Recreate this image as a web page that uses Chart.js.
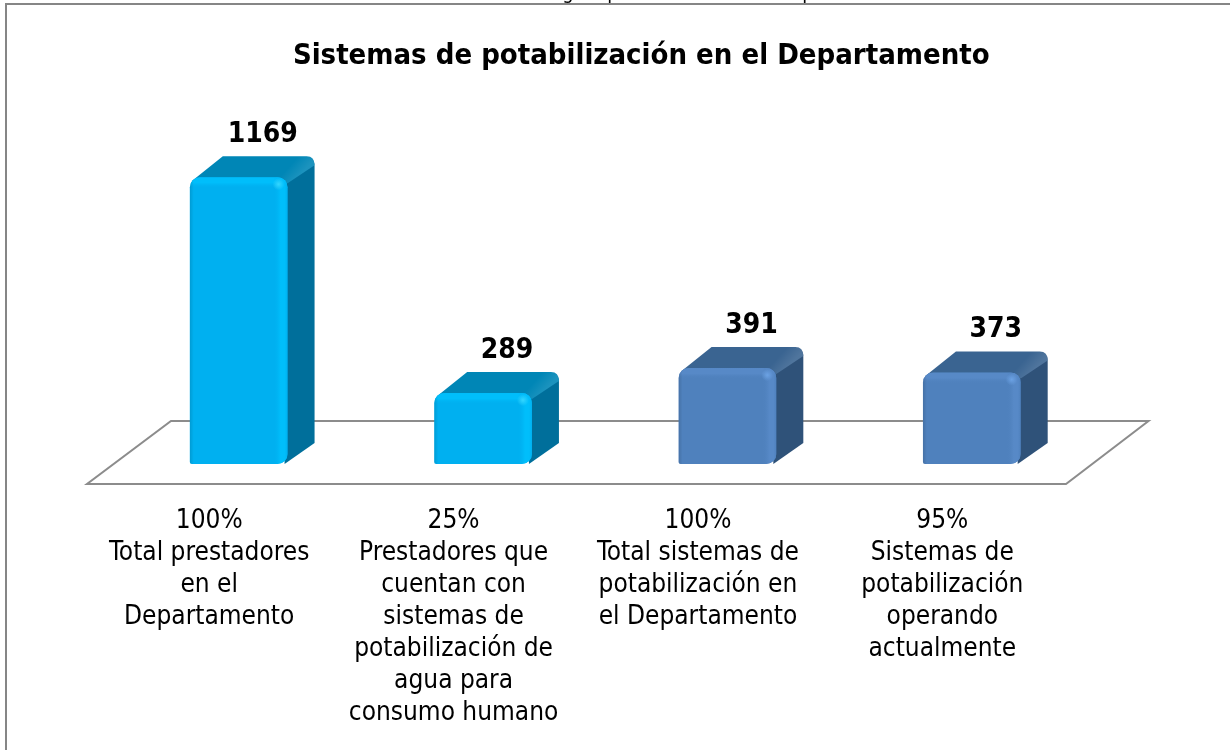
<!DOCTYPE html>
<html><head><meta charset="utf-8">
<style>html,body{margin:0;padding:0;background:#fff}#w{width:1230px;height:750px;position:relative}</style>
<script src="https://cdn.jsdelivr.net/npm/chart.js@4"></script>
</head><body><div id="w"><canvas id="c" width="1230" height="750"></canvas></div>
<script>
const categories = [
  ["100%","Total prestadores","en el","Departamento"],
  ["25%","Prestadores que","cuentan con","sistemas de","potabilización de","agua para","consumo humano"],
  ["100%","Total sistemas de","potabilización en","el Departamento"],
  ["95%","Sistemas de","potabilización","operando","actualmente"]
];
const values = [1169, 289, 391, 373];
const chartTitle = "Sistemas de potabilización en el Departamento";
const frontColors = ["#00B0F0","#00B0F0","#4F81BD","#4F81BD"];
const topColors   = ["#0086B6","#0086B6","#3A6491","#3A6491"];
const sideColors  = ["#006F9B","#006F9B","#2F5279","#2F5279"];
const glowColors  = ["#00BEFB","#00BEFB","#5789C7","#5789C7"];
const spotColors  = ["#33D6FF","#33D6FF","#6CA2E4","#6CA2E4"];
const FONT = "'DejaVu Sans Condensed','DejaVu Sans',sans-serif";
const DX = 27, DY = 21, R = 10;

const deco = {
  id:'deco',
  afterLayout(chart){ const t = chart.titleBlock; t.left += 36; t.right += 36; },
  beforeDraw(chart){
    const c = chart.ctx; c.save();
    c.fillStyle='#fff'; c.fillRect(0,0,1230,750);
    c.strokeStyle='#868686'; c.lineWidth=2;
    c.strokeRect(6,4,1300,800);
    c.fillStyle='#000'; c.font="20px "+FONT; c.textAlign='center'; c.textBaseline='alphabetic';
    c.fillText('g',568,-1); c.fillText('p',613,-1); c.fillText('p',808,-1);
    c.restore();
  },
  beforeDatasetsDraw(chart){
    const c = chart.ctx, a = chart.chartArea, b = a.bottom;
    c.save();
    c.strokeStyle='#8C8C8C'; c.lineWidth=2; c.lineJoin='miter';
    c.beginPath();
    c.moveTo(a.left-29.5,b+20); c.lineTo(a.right-28,b+20);
    c.lineTo(a.right+54.5,b-43); c.lineTo(a.left+54.5,b-43); c.closePath(); c.stroke();
    chart.getDatasetMeta(0).data.forEach((el,i)=>{
      const l=el.x-el.width/2, r=el.x+el.width/2, t=el.y;
      // side face
      c.fillStyle=sideColors[i];
      c.beginPath();
      c.moveTo(r-4,t+4); c.lineTo(r+DX-6,t-DY+2);
      c.quadraticCurveTo(r+DX,t-DY+2,r+DX,t-DY+10);
      c.lineTo(r+DX,el.base-DY); c.lineTo(r-3,el.base); c.closePath(); c.fill();
      // top face
      c.fillStyle=topColors[i];
      c.beginPath();
      c.moveTo(l+3,t+3); c.lineTo(l+DX+6,t-DY);
      c.lineTo(r+DX-8,t-DY); c.quadraticCurveTo(r+DX,t-DY,r+DX,t-DY+9);
      c.lineTo(r,t+6); c.closePath(); c.fill();
      // soft lighter edge between top and side
      const px=r+DX-16, py=t-DY;
      const g=c.createLinearGradient(px,py,px+10.4,py+9.4);
      g.addColorStop(0,'rgba(255,255,255,0)');
      g.addColorStop(1,'rgba(255,255,255,0.11)');
      c.fillStyle=g;
      c.beginPath();
      c.moveTo(r-8,t); c.lineTo(px,py);
      c.lineTo(r+DX-8,t-DY); c.quadraticCurveTo(r+DX,t-DY,r+DX,t-DY+9);
      c.lineTo(r,t+6); c.closePath(); c.fill();
    });
    c.restore();
  },
  afterDatasetsDraw(chart){
    const c = chart.ctx;
    c.save();
    chart.getDatasetMeta(0).data.forEach((el,i)=>{
      const l=el.x-el.width/2, r=el.x+el.width/2, t=el.y, w=el.width, h=el.base-el.y;
      c.save();
      c.beginPath();
      c.roundRect(l,t,w,h,[R,R,R,2]);
      c.clip();
      // top sheen
      let g=c.createLinearGradient(0,t,0,t+11);
      g.addColorStop(0,glowColors[i]); g.addColorStop(0.5,glowColors[i]);
      g.addColorStop(1,frontColors[i]+'00');
      c.fillStyle=g; c.fillRect(l,t,w,11);
      // right sheen
      g=c.createLinearGradient(r-14,0,r,0);
      g.addColorStop(0,frontColors[i]+'00'); g.addColorStop(0.5,glowColors[i]);
      g.addColorStop(0.8,glowColors[i]); g.addColorStop(1,frontColors[i]);
      c.fillStyle=g; c.fillRect(r-14,t,14,h);
      // left soft edge
      g=c.createLinearGradient(l,0,l+4,0);
      g.addColorStop(0,'rgba(0,0,0,0.12)'); g.addColorStop(1,'rgba(0,0,0,0)');
      c.fillStyle=g; c.fillRect(l,t,4,h);
      // corner spot
      g=c.createRadialGradient(r-9,t+7,0,r-9,t+7,6);
      g.addColorStop(0,spotColors[i]); g.addColorStop(1,spotColors[i]+'00');
      c.fillStyle=g; c.fillRect(r-15,t+1,12,12);
      c.restore();
      // value label
      c.fillStyle='#000';
      c.font="bold 28px "+FONT;
      c.textAlign='center'; c.textBaseline='alphabetic';
      c.fillText(String(values[i]),el.x+24,t-35);
    });
    c.restore();
  }
};

new Chart(document.getElementById('c'),{
  type:'bar',
  data:{labels:categories,datasets:[{data:values,backgroundColor:frontColors,borderWidth:0,
    borderSkipped:false,borderRadius:{topLeft:R,topRight:R,bottomLeft:2,bottomRight:R},
    categoryPercentage:1,barPercentage:0.4}]},
  plugins:[deco],
  options:{
    responsive:false,animation:false,
    layout:{padding:{left:116.5,right:136,top:0,bottom:0}},
    plugins:{
      legend:{display:false},tooltip:{enabled:false},
      title:{display:true,text:chartTitle,color:'#000',
        font:{family:FONT,weight:'bold',size:29,lineHeight:'34px'},
        padding:{top:39,bottom:23}}
    },
    scales:{
      x:{grid:{display:false},border:{display:false},
        afterFit(s){s.height=286;},
        ticks:{color:'#000',autoSkip:false,maxRotation:0,minRotation:0,padding:33,labelOffset:-29.5,
          font:{family:FONT,size:26,lineHeight:'32px'}}},
      y:{display:false,min:0,max:1500}
    }
  }
});
</script></body></html>
